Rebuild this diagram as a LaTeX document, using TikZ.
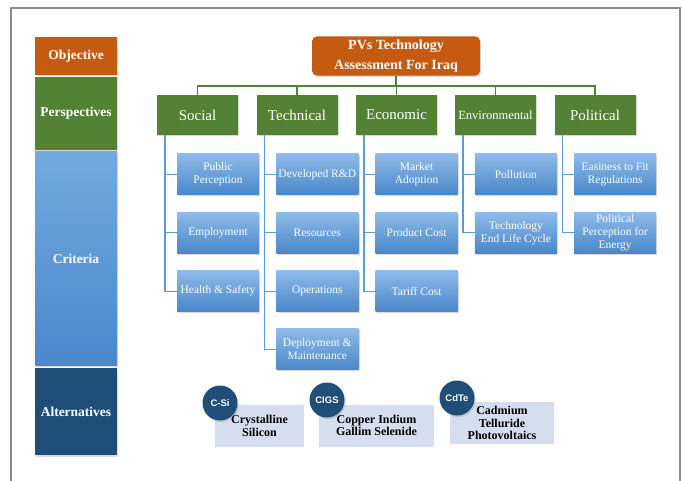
\documentclass[tikz,border=0pt]{standalone}
\usepackage{fontspec}
\setmainfont{Liberation Serif}
\newfontfamily\tagfont{Liberation Sans}
\usetikzlibrary{shadows}

\definecolor{goalorange}{HTML}{C55A11}
\definecolor{perspgreen}{HTML}{548235}
\definecolor{critline}{HTML}{5B9BD5}
\definecolor{crittop}{HTML}{8EBBEA}
\definecolor{critbottom}{HTML}{4A86C8}
\definecolor{coltop}{HTML}{72A9DF}
\definecolor{colbottom}{HTML}{4A88CC}
\definecolor{altdark}{HTML}{1F4E79}
\definecolor{altpale}{HTML}{D5DEEE}
\definecolor{framegray}{HTML}{8C8C8C}

\tikzset{
	boxshadow/.style={drop shadow={shadow xshift=1.2pt, shadow yshift=-1.5pt, opacity=0.3}},
	levelbox/.style={minimum width=82pt, inner sep=0pt, text=white, boxshadow,
		font=\bfseries\fontsize{13.5}{15}\selectfont},
}

\begin{document}
\begin{tikzpicture}[x=1pt,y=-1pt,
	goal/.style={fill=goalorange, rounded corners=5pt, minimum width=168pt, minimum height=38pt,
		align=center, text=white, boxshadow, font=\bfseries\fontsize{14}{20}\selectfont},
	persp/.style={fill=perspgreen, minimum width=81pt, minimum height=40pt, inner sep=0pt,
		text=white, boxshadow, font=\fontsize{15}{17}\selectfont},
	crit/.style={top color=crittop, bottom color=critbottom, minimum width=82pt, minimum height=41pt,
		inner sep=1pt, align=center, text=white, boxshadow, font=\fontsize{11.5}{13}\selectfont},
	alt/.style={fill=altpale, minimum height=42pt, inner sep=1pt, align=center,
		font=\bfseries\fontsize{12}{12.5}\selectfont},
	tag/.style={circle, fill=altdark, minimum size=35pt, inner sep=0pt, text=white, boxshadow,
		font=\tagfont\bfseries\fontsize{9.5}{10}\selectfont},
	tree/.style={draw=perspgreen, line width=1.2pt},
	branch/.style={draw=critline, line width=1.2pt}]

\useasboundingbox (0,0) rectangle (683,481);
\draw[framegray, line width=1.4pt] (11,481) -- (11,8) -- (680,8) -- (680,481);

% levels on the left
\node[levelbox, fill=goalorange, minimum height=38pt] (lvgoal) at (76,56) {Objective};
\node[levelbox, fill=perspgreen, minimum height=73pt] (lvpersp) at (76,113.5) {Perspectives};
\node[levelbox, top color=coltop, bottom color=colbottom, minimum height=213pt] (lvcrit) at (76,258.5) {Criteria};
\node[levelbox, fill=altdark, minimum height=87pt] (lvalt) at (76,411.5) {Alternatives};

% objective and perspectives
\node[goal] (goal) at (396,56) {PVs Technology\\Assessment For Iraq};
\coordinate (bar) at (0,86);

\foreach \i/\name/\xp in {1/Social/197.5, 2/Technical/297, 3/Economic/396.5,
	4/{\fontsize{12.5}{14}\selectfont Environmental}/495.5, 5/Political/595}
{
	\node[persp] (p\i) at (\xp,115) {\name};
	\draw[tree] (goal.south) -- (goal.south |- bar) -| (p\i.north);
};

% criteria
\foreach \i/\j/\txt in {1/1/{Public\\Perception}, 1/2/Employment, 1/3/{Health \& Safety},
	2/1/{Developed R\&D}, 2/2/Resources, 2/3/Operations, 2/4/{Deployment \&\\Maintenance},
	3/1/{Market\\Adoption}, 3/2/{Product Cost}, 3/3/{Tariff Cost},
	4/1/Pollution, 4/2/{Technology\\End Life Cycle},
	5/1/{Easiness to Fit\\Regulations}, 5/2/{Political\\Perception for\\Energy}}
{
	\node[crit] (c\i\j) at ({218+99.3*(\i-1)},{174.5+58.3*(\j-1)}) {\txt};
	\draw[branch] ([xshift=-32.5pt]p\i.south) |- (c\i\j.west);
};

% alternatives
\node[alt, minimum width=89pt] (a1) at (259.5,426) {Crystalline\\Silicon};
\node[alt, minimum width=115pt] (a2) at (376.5,425.5) {Copper Indium\\Gallim Selenide};
\node[alt, minimum width=104pt] (a3) at (502,423) {Cadmium\\Telluride\\Photovoltaics};

\node[tag] (t1) at (220,403) {C-Si};
\node[tag] (t2) at (327,400) {CIGS};
\node[tag] (t3) at (457,398) {CdTe};
\end{tikzpicture}
\end{document}
